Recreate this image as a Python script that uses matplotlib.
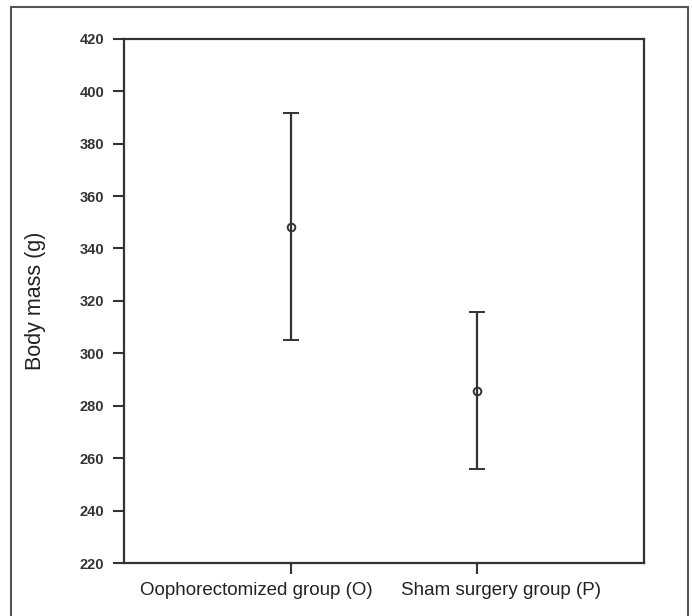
import matplotlib
matplotlib.use('Agg')
from matplotlib import pyplot as plt
from matplotlib.patches import Rectangle
from matplotlib.transforms import ScaledTranslation

groups = ['Oophorectomized group (O)', 'Sham surgery group (P)']
means = [348.3, 285.8]
lower = [305.1, 255.8]
upper = [391.6, 315.9]
yticks = list(range(220, 421, 20))

plt.rcParams['font.family'] = ['Liberation Sans', 'DejaVu Sans']
ink = '#333333'

fig = plt.figure(figsize=(6.92, 6.16), dpi=100)
ax = fig.add_axes([0.179, 0.086, 0.752, 0.851])

x = [1, 2]
err = [[m - lo for m, lo in zip(means, lower)], [hi - m for m, hi in zip(means, upper)]]
ax.errorbar(x, means, yerr=err, fmt='o', color=ink, ecolor=ink, elinewidth=1.6,
            capsize=6, capthick=1.6, markersize=5.5, markerfacecolor='none',
            markeredgewidth=1.4)

ax.set_xlim(0.103, 2.897)
ax.set_ylim(220, 420)
ax.set_xticks(x)
ax.set_xticklabels(groups, fontsize=13.5, color='#222222')
ax.set_yticks(yticks)
ax.set_yticklabels([str(v) for v in yticks], fontsize=10.5, fontweight='bold', color='#333333')
ax.set_ylabel('Body mass (g)', fontsize=15.5, color='#222222', labelpad=24)
ax.tick_params(axis='both', direction='out', length=8, width=1.5, color=ink)
ax.tick_params(axis='x', pad=6)
ax.tick_params(axis='y', pad=6)
for s in ax.spines.values():
    s.set_linewidth(1.6)
    s.set_color(ink)

# the category labels sit a bit apart from their ticks in the original
for lab, dx in zip(ax.get_xticklabels(), [-35, 24]):
    lab.set_transform(lab.get_transform() + ScaledTranslation(dx / 100, 0, fig.dpi_scale_trans))

# outer frame around the whole figure (bottom edge cut off)
fig.patches.append(Rectangle((11 / 692, -0.05), 677 / 692, 1.05 - 7 / 616,
                             transform=fig.transFigure, fill=False,
                             edgecolor='#555555', linewidth=1.5, clip_on=False))

fig.savefig('out.png', dpi=100)
